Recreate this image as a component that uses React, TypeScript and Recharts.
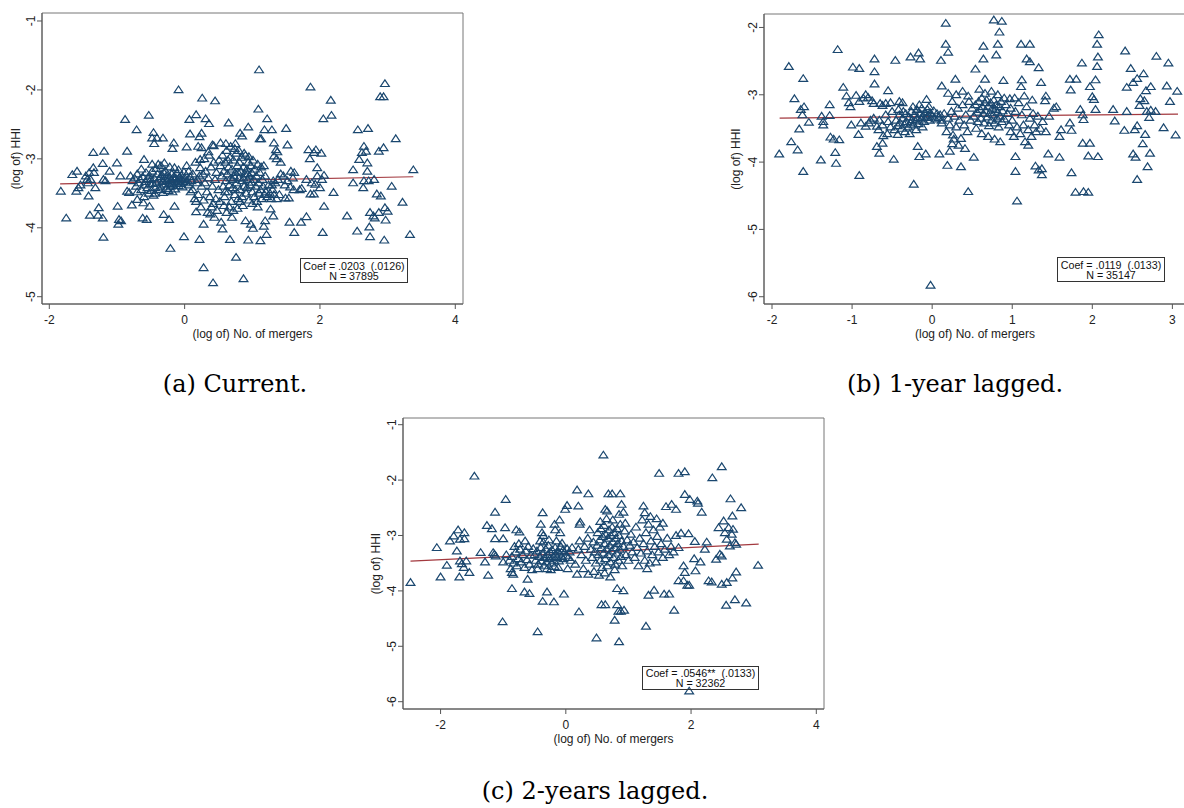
import { ScatterChart, Scatter, XAxis, YAxis, ReferenceArea, ReferenceLine } from "recharts";

type Pt = [number, number];

// (a) current
const sparseA: Pt[] = [
  [1.10,-1.71],[-0.09,-2.00],[0.26,-2.12],[0.45,-2.16],[1.86,-1.96],[2.16,-2.15],[2.17,-2.37],[2.05,-2.42],[2.96,-1.91],[2.89,-2.10],[2.94,-2.10],[1.09,-2.28],[-0.88,-2.43],[-0.53,-2.37],[-0.71,-2.58],[0.17,-2.36],[0.07,-2.43],[0.31,-2.42],[0.36,-2.49],[0.08,-2.64],[0.25,-2.63],[0.65,-2.48],[0.94,-2.54],[1.22,-2.42],[1.18,-2.58],[1.29,-2.58],[1.50,-2.56],[1.52,-2.80],[2.56,-2.58],[2.71,-2.56],[3.12,-2.71],[0.82,-2.63],[0.85,-2.67],[1.11,-2.71],[1.13,-2.71],[1.32,-2.77],[1.37,-2.90],[-0.46,-2.62],[-0.48,-2.70],[-0.41,-2.70],[-0.32,-2.70],[-0.45,-2.78],[-0.16,-2.77],[-0.18,-2.85],[0.03,-2.83],[0.22,-2.68],[0.20,-2.82],[0.25,-2.84],[0.41,-2.80],[0.43,-2.81],[0.53,-2.77],[0.61,-2.78],[0.75,-2.78],[0.35,-2.90],[0.23,-3.01],
  [-1.35,-2.91],[-1.19,-2.89],[-0.85,-2.89],[-1.00,-3.06],[-1.21,-3.07],[-1.35,-3.13],[-0.60,-3.01],[-1.66,-3.23],[-1.59,-3.18],[-1.41,-3.20],[-1.34,-3.20],[-1.11,-3.18],[-0.95,-3.25],[-1.83,-3.47],[-1.75,-3.86],[-1.60,-3.47],[-1.57,-3.42],[-1.54,-3.38],[-1.43,-3.35],[-1.39,-3.30],[-1.46,-3.25],[-1.44,-3.30],[-1.32,-3.42],[-1.20,-3.30],[-1.17,-3.32],[-1.42,-3.54],[-1.40,-3.82],[-1.27,-3.71],[-1.28,-3.82],[-1.21,-3.86],[-1.20,-4.14],[-0.99,-3.69],[-0.97,-3.88],[-0.94,-3.90],[-0.98,-3.95],[-0.85,-3.47],[-0.82,-3.49],[-0.78,-3.67],[-0.70,-3.59],[-0.61,-3.64],[-0.52,-3.69],[-0.62,-3.86],[-0.56,-3.88],[-0.31,-3.81],[-0.23,-3.88],[-0.21,-4.30],[-0.15,-3.69],[-0.01,-4.13],[0.22,-4.17],[0.28,-4.58],[0.42,-4.80],[0.76,-4.43],[0.87,-4.74],[0.28,-3.95],[0.17,-3.77],[0.54,-3.92],[0.56,-4.02],[0.67,-4.17],[0.94,-4.18],[1.12,-4.19],[1.21,-4.10],[0.90,-3.90],[0.98,-3.95],[1.01,-4.01],[1.17,-3.98],[1.19,-3.90],[1.27,-3.73],[1.31,-3.83],[1.55,-3.92],[1.62,-4.07],[1.72,-3.92],[1.80,-3.84],[2.04,-4.07],[2.40,-3.83],[2.55,-4.05],[2.74,-4.13],[2.73,-3.99],[2.95,-4.18],[2.97,-3.89],[3.33,-4.10],[3.22,-3.63],[3.06,-3.40],[3.38,-3.16],[2.06,-3.69],[2.20,-3.49],
  [2.94,-2.84],[2.87,-2.89],[2.58,-3.01],[2.62,-2.91],[2.65,-2.82],[2.68,-2.89],[2.70,-3.06],[2.49,-3.16],[2.49,-3.35],[2.65,-3.32],[2.64,-3.42],[2.70,-3.18],[2.72,-3.32],[2.80,-3.30],[2.84,-3.51],[2.90,-3.54],[2.74,-3.78],[2.79,-3.83],[2.81,-3.86],[2.87,-3.78],[2.96,-3.71],[3.00,-3.76],[1.83,-2.87],[1.91,-2.91],[1.94,-2.87],[2.02,-2.92],[1.96,-3.13],[1.88,-3.35],[1.93,-3.37],[1.91,-3.51],[1.86,-3.51],[1.96,-3.25],[2.03,-3.30],[2.06,-3.24],[2.00,-3.42],[1.73,-3.43],[1.56,-3.41],[1.61,-3.45],[1.49,-3.57],[1.54,-3.57],[1.46,-3.25],[1.52,-3.32],[1.57,-3.18],[1.62,-3.20],[1.35,-2.87],[1.32,-2.96],[1.36,-3.00],[1.31,-3.32],[1.29,-3.38],
  [1.42,-3.05],[1.48,-3.38],[1.60,-3.28],[1.70,-3.45],[1.80,-3.30],[1.85,-3.00],
];
const clusterA: Pt[] = [
  [-0.45,-3.28],[-0.42,-3.35],[-0.40,-3.22],[-0.38,-3.31],[-0.36,-3.40],[-0.35,-3.26],[-0.33,-3.33],[-0.31,-3.20],[-0.30,-3.37],[-0.29,-3.29],[-0.27,-3.43],[-0.26,-3.24],[-0.25,-3.32],[-0.23,-3.36],[-0.22,-3.27],[-0.21,-3.40],[-0.20,-3.30],[-0.19,-3.22],[-0.18,-3.34],[-0.17,-3.38],[-0.16,-3.26],[-0.15,-3.31],[-0.14,-3.44],[-0.13,-3.28],[-0.12,-3.35],[-0.11,-3.21],[-0.10,-3.33],[-0.09,-3.39],[-0.08,-3.27],[-0.07,-3.31],[-0.06,-3.36],[-0.05,-3.24],[-0.04,-3.30],[-0.03,-3.41],[-0.02,-3.33],[0.00,-3.28],[0.02,-3.35],[0.04,-3.31],[0.06,-3.38],[0.08,-3.26],[-0.28,-3.18],[-0.24,-3.46],[-0.34,-3.23],[-0.37,-3.45],[-0.43,-3.42],[-0.47,-3.36],[-0.50,-3.30],[-0.52,-3.24],[-0.18,-3.48],[-0.09,-3.16],[-0.01,-3.19],[0.10,-3.32],[0.12,-3.22],[-0.32,-3.49],[-0.15,-3.13],
  [-0.80,-3.25],[-0.77,-3.32],[-0.74,-3.28],[-0.72,-3.40],[-0.70,-3.22],[-0.68,-3.35],[-0.66,-3.30],[-0.64,-3.45],[-0.62,-3.26],[-0.60,-3.38],[-0.58,-3.33],[-0.57,-3.20],[-0.55,-3.42],[-0.54,-3.29],[-0.53,-3.50],[-0.51,-3.36],[-0.49,-3.46],[-0.48,-3.18],[-0.46,-3.53],[-0.44,-3.50],[-0.64,-3.15],[-0.70,-3.48],[-0.60,-3.55],[-0.42,-3.14],[-0.39,-3.08],[-0.35,-3.10],[-0.30,-3.06],[-0.22,-3.12],[-0.48,-3.08],
  [0.12,-3.45],[0.15,-3.58],[0.17,-3.62],[0.19,-3.30],[0.20,-3.52],[0.22,-3.25],[0.24,-3.70],[0.25,-3.40],[0.27,-3.22],[0.28,-3.60],[0.30,-3.35],[0.31,-3.18],[0.33,-3.48],[0.34,-3.78],[0.35,-3.28],[0.37,-3.55],[0.38,-3.80],[0.39,-3.12],[0.41,-3.40],[0.42,-3.65],[0.43,-3.05],[0.45,-3.30],[0.46,-3.58],[0.47,-3.20],[0.48,-3.75],[0.50,-3.45],[0.51,-3.02],[0.52,-3.62],[0.16,-3.05],[0.23,-3.13],[0.29,-3.00],[0.36,-2.95],[0.40,-3.70],[0.44,-3.85],[0.18,-3.35],[0.09,-3.48],[0.06,-3.18],[0.03,-3.10],
  [0.53,-3.10],[0.55,-3.25],[0.56,-2.95],[0.57,-3.40],[0.58,-3.18],[0.59,-3.55],[0.60,-3.05],[0.61,-3.32],[0.62,-2.88],[0.63,-3.22],[0.64,-3.48],[0.65,-3.12],[0.66,-3.38],[0.67,-2.98],[0.68,-3.28],[0.69,-3.62],[0.70,-3.15],[0.71,-3.42],[0.72,-3.02],[0.73,-3.25],[0.74,-3.52],[0.75,-3.20],[0.76,-2.92],[0.77,-3.35],[0.78,-3.10],[0.79,-3.58],[0.80,-3.28],[0.81,-3.05],[0.82,-3.45],[0.83,-3.18],[0.84,-2.98],[0.85,-3.32],[0.86,-3.68],[0.87,-3.12],[0.88,-3.40],[0.89,-3.22],[0.90,-2.95],[0.91,-3.50],[0.92,-3.15],[0.93,-3.30],[0.94,-3.05],[0.95,-3.60],[0.96,-3.25],[0.97,-3.38],[0.98,-3.10],[0.99,-3.20],[1.00,-3.48],[1.01,-3.02],[1.02,-3.30],[1.03,-3.55],[1.04,-3.15],[1.05,-3.40],[1.06,-3.25],[1.07,-3.62],[1.08,-3.08],[1.09,-3.35],[1.10,-3.50],[1.11,-3.20],[1.12,-3.45],[1.13,-3.12],[1.14,-3.58],[1.15,-3.30],[1.16,-3.40],[1.17,-3.10],[1.18,-3.52],[1.19,-3.25],[1.20,-3.48],[1.22,-3.55],[1.24,-3.38],[1.26,-3.50],[1.28,-3.58],[1.30,-3.45],[1.32,-3.52],[1.34,-3.35],[1.36,-3.58],[1.38,-3.30],[1.40,-3.52],[1.42,-3.22],[0.66,-3.70],[0.72,-3.75],[0.78,-3.72],[0.70,-3.85],[0.62,-3.78],[0.58,-3.68],[0.68,-2.82],[0.74,-2.85],[0.80,-2.88],[0.88,-2.92],[0.95,-2.97],[0.60,-3.48],[0.75,-3.45],[0.85,-3.55],[0.92,-3.42],[1.00,-3.65],[1.08,-3.70],[0.82,-3.62],[0.64,-3.02],[0.71,-3.30],[0.79,-3.20],[0.87,-3.28],[0.93,-3.22],[0.99,-3.34],
];
const fitA: Pt[] = [[-1.84, -3.362], [3.38, -3.26]];

// (b) 1-year lagged
const sparseB: Pt[] = [
  [-1.91,-3.88],[-1.79,-2.58],[-1.72,-3.06],[-1.76,-3.70],[-1.68,-3.82],[-1.66,-3.51],[-1.64,-3.22],[-1.62,-3.30],[-1.61,-2.76],[-1.60,-3.18],[-1.61,-4.14],[-1.54,-3.41],[-1.39,-3.97],[-1.38,-3.32],[-1.36,-3.40],[-1.36,-3.45],[-1.28,-3.15],[-1.28,-3.31],[-1.27,-3.63],[-1.23,-3.66],[-1.16,-3.67],[-1.21,-3.86],[-1.20,-4.02],[-1.18,-2.33],[-1.11,-2.89],[-1.07,-3.02],[-1.04,-3.12],[-1.02,-3.18],[-1.01,-3.45],[-0.99,-2.59],[-0.91,-2.61],[-0.95,-3.01],[-0.91,-3.10],[-0.92,-3.59],[-0.91,-4.20],[-0.89,-3.42],[-0.86,-3.05],[-0.83,-3.00],[-0.80,-3.04],[-0.75,-3.09],[-0.73,-3.13],[-0.83,-3.47],[-0.79,-3.42],[-0.77,-3.38],[-0.73,-3.35],[-0.69,-3.47],[-0.67,-3.52],[-0.72,-2.47],[-0.72,-2.66],[-0.72,-2.84],[-0.69,-3.77],[-0.66,-3.87],[-0.62,-3.72],[-0.65,-3.13],[-0.62,-3.16],[-0.58,-3.13],[-0.55,-2.94],[-0.52,-3.12],[-0.48,-3.96],[-0.46,-2.49],[-0.61,-3.61],[-0.43,-3.59],[-0.41,-3.10],[-0.37,-3.12],
  [-0.27,-2.44],[-0.17,-2.38],[-0.15,-2.47],[-0.23,-4.33],[-0.18,-3.77],[-0.16,-3.92],[-0.08,-3.88],[-0.07,-3.07],[-0.02,-5.83],[0.12,-2.87],[0.11,-2.49],[0.17,-1.94],[0.17,-2.25],[0.20,-2.37],[0.20,-2.98],[0.09,-3.88],[0.19,-4.05],[0.22,-3.84],[0.25,-3.73],[0.27,-3.66],[0.29,-2.77],[0.36,-4.07],[0.45,-4.44],[0.54,-2.62],[0.52,-3.93],[0.64,-2.28],[0.64,-2.47],[0.66,-2.77],[0.77,-1.89],[0.87,-1.91],[0.84,-2.07],[0.82,-2.25],[0.80,-2.41],[0.89,-2.79],[0.97,-3.06],[1.11,-2.25],[1.22,-2.25],[1.12,-2.78],[1.11,-2.88],[1.18,-2.47],[1.22,-2.51],[1.33,-2.60],[1.36,-2.82],[1.42,-3.02],[1.41,-3.09],[1.04,-3.92],[1.04,-4.14],[1.06,-4.58],[1.29,-4.06],[1.33,-4.12],[1.37,-4.19],[1.37,-4.10],[1.45,-3.88],[1.59,-3.93],[1.52,-3.20],[1.55,-3.18],[1.59,-3.62],[1.61,-3.52],
  [1.72,-2.77],[1.73,-2.93],[1.80,-2.77],[1.87,-2.53],[1.72,-3.42],[1.74,-3.53],[1.74,-4.16],[1.79,-4.45],[1.89,-4.44],[1.95,-4.45],[1.85,-3.22],[1.88,-3.30],[1.89,-3.37],[1.88,-3.72],[1.97,-3.72],[1.95,-3.91],[2.07,-3.92],[1.97,-2.88],[2.00,-3.03],[2.02,-3.07],[2.04,-2.78],[2.04,-3.22],[2.06,-2.58],[2.07,-2.44],[2.06,-2.25],[2.08,-2.11],[2.26,-3.22],[2.28,-3.39],[2.40,-3.53],[2.41,-2.35],[2.48,-2.61],[2.43,-2.89],[2.43,-3.25],[2.51,-2.82],[2.56,-2.76],[2.64,-2.69],[2.67,-2.94],[2.51,-3.88],[2.54,-3.93],[2.56,-4.26],[2.56,-3.46],[2.53,-3.52],[2.59,-3.16],[2.60,-3.06],[2.65,-3.09],[2.63,-3.73],[2.66,-3.59],[2.69,-4.07],[2.72,-3.87],[2.68,-3.25],[2.73,-3.23],[2.71,-3.34],[2.79,-3.25],[2.73,-2.88],[2.80,-2.43],[2.93,-2.87],[2.95,-2.53],[2.97,-3.10],[2.89,-3.49],[3.04,-3.60],[3.06,-2.95],
];
const clusterB: Pt[] = [
  [-0.45,-3.38],[-0.43,-3.46],[-0.41,-3.30],[-0.40,-3.42],[-0.38,-3.50],[-0.37,-3.35],[-0.35,-3.44],[-0.33,-3.28],[-0.32,-3.40],[-0.30,-3.48],[-0.29,-3.33],[-0.27,-3.42],[-0.26,-3.25],[-0.25,-3.37],[-0.23,-3.45],[-0.22,-3.30],[-0.21,-3.39],[-0.19,-3.22],[-0.18,-3.34],[-0.17,-3.43],[-0.15,-3.28],[-0.14,-3.36],[-0.13,-3.20],[-0.11,-3.32],[-0.10,-3.40],[-0.09,-3.26],[-0.07,-3.34],[-0.06,-3.22],[-0.05,-3.30],[-0.03,-3.38],[-0.02,-3.27],[0.00,-3.32],[0.02,-3.24],[0.04,-3.36],[0.06,-3.28],[0.08,-3.34],[0.10,-3.30],[0.12,-3.38],[-0.34,-3.55],[-0.28,-3.58],[-0.20,-3.52],[-0.12,-3.48],[-0.24,-3.18],[-0.16,-3.15],[-0.04,-3.18],[-0.36,-3.25],[-0.42,-3.22],[-0.47,-3.52],
  [-0.55,-3.40],[-0.52,-3.48],[-0.58,-3.30],[-0.62,-3.45],[-0.50,-3.25],[-0.66,-3.38],[-0.56,-3.58],
  [0.50,-3.20],[0.52,-3.32],[0.54,-3.15],[0.56,-3.26],[0.57,-3.40],[0.58,-3.10],[0.60,-3.22],[0.61,-3.35],[0.62,-3.05],[0.63,-3.18],[0.64,-3.28],[0.65,-3.42],[0.66,-3.12],[0.67,-3.24],[0.68,-3.08],[0.69,-3.33],[0.70,-3.17],[0.71,-3.46],[0.72,-3.27],[0.73,-3.12],[0.74,-3.38],[0.75,-3.20],[0.76,-3.30],[0.77,-3.08],[0.78,-3.42],[0.79,-3.22],[0.80,-3.15],[0.81,-3.35],[0.82,-3.26],[0.83,-3.48],[0.84,-3.18],[0.85,-3.32],[0.86,-3.10],[0.87,-3.40],[0.88,-3.24],[0.90,-3.36],[0.92,-3.15],[0.94,-3.28],[0.96,-3.45],[0.98,-3.20],[0.55,-3.50],[0.62,-3.58],[0.70,-3.62],[0.78,-3.66],[0.85,-3.70],[0.66,-2.98],[0.74,-2.95],[0.82,-3.00],[0.59,-2.92],[0.90,-3.05],
  [0.12,-3.42],[0.15,-3.28],[0.18,-3.55],[0.20,-3.35],[0.22,-3.45],[0.24,-3.25],[0.26,-3.60],[0.28,-3.32],[0.30,-3.48],[0.32,-3.20],[0.34,-3.38],[0.36,-3.65],[0.38,-3.15],[0.40,-3.45],[0.42,-3.30],[0.44,-3.55],[0.46,-3.10],[0.48,-3.38],[0.33,-3.75],[0.41,-3.80],[0.30,-3.00],[0.38,-2.95],[0.45,-3.02],[0.25,-3.10],
  [0.98,-3.55],[1.00,-3.38],[1.02,-3.62],[1.04,-3.25],[1.06,-3.48],[1.08,-3.12],[1.10,-3.58],[1.12,-3.30],[1.14,-3.45],[1.16,-3.70],[1.18,-3.18],[1.20,-3.52],[1.22,-3.35],[1.24,-3.62],[1.26,-3.28],[1.28,-3.45],[1.30,-3.55],[1.32,-3.32],[1.35,-3.50],[1.38,-3.40],[1.42,-3.55],[1.46,-3.32],[1.03,-3.05],[1.15,-3.02],[1.25,-3.08],[1.20,-3.75],
];
const fitB: Pt[] = [[-1.905, -3.346], [3.07, -3.287]];

// (c) 2-years lagged
const sparseC: Pt[] = [
  [-2.48,-3.85],[-2.06,-3.22],[-2.00,-3.75],[-1.90,-3.54],[-1.85,-3.10],[-1.79,-3.01],[-1.72,-2.90],[-1.69,-3.07],[-1.62,-2.95],[-1.62,-3.06],[-1.74,-3.28],[-1.70,-3.75],[-1.69,-3.46],[-1.66,-3.51],[-1.59,-3.46],[-1.63,-3.58],[-1.54,-3.67],[-1.46,-1.93],[-1.36,-3.31],[-1.29,-3.48],[-1.26,-2.82],[-1.18,-2.88],[-1.24,-3.72],[-1.16,-3.31],[-1.14,-3.34],[-1.12,-3.37],[-1.13,-2.58],[-1.13,-3.06],[-1.00,-3.06],[-0.96,-2.35],[-0.97,-2.86],[-1.01,-4.56],[-0.86,-3.96],[-0.86,-3.67],[-0.84,-3.70],[-0.79,-2.90],[-0.74,-2.94],[-0.66,-4.02],[-0.58,-4.05],[-0.61,-3.79],[-0.45,-4.74],[-0.40,-2.80],[-0.38,-2.95],[-0.36,-3.00],[-0.37,-2.59],[-0.37,-4.19],[-0.30,-4.02],[-0.19,-4.20],[-0.18,-2.80],[-0.17,-2.90],[-0.10,-2.72],[-0.09,-2.95],[-0.03,-4.06],[-0.01,-2.53],[0.02,-2.46],
  [0.18,-2.18],[0.20,-2.47],[0.23,-2.76],[0.22,-2.80],[0.21,-4.38],[0.36,-2.25],[0.49,-4.85],[0.60,-1.55],[0.68,-2.25],[0.74,-2.25],[0.87,-2.25],[0.63,-2.53],[0.66,-2.56],[0.57,-4.25],[0.63,-4.25],[0.78,-4.53],[0.85,-4.92],[0.82,-4.25],[0.84,-4.37],[0.88,-4.37],[0.93,-4.35],[0.82,-3.96],[0.92,-4.00],[0.89,-2.44],[0.92,-2.58],[1.24,-2.47],[1.26,-2.59],[1.35,-2.66],[1.28,-4.64],[1.32,-4.08],[1.41,-3.99],[1.49,-1.88],[1.57,-4.06],[1.65,-4.06],[1.60,-2.48],[1.69,-2.44],[1.76,-2.53],[1.73,-4.35],[1.80,-1.88],[1.90,-1.85],[1.90,-2.26],[1.98,-2.35],[2.10,-2.38],[2.11,-2.42],[2.17,-2.58],
  [1.80,-3.82],[1.88,-3.82],[1.90,-3.67],[1.94,-3.90],[1.97,-3.90],[1.88,-3.55],[1.97,-5.81],[2.05,-3.42],[2.15,-3.48],[2.07,-3.64],[1.96,-2.97],[2.06,-3.11],[2.22,-3.25],[2.25,-3.12],[2.28,-3.82],[2.33,-3.84],[2.34,-1.96],[2.40,-3.43],[2.44,-2.86],[2.46,-3.34],[2.49,-3.37],[2.52,-2.74],[2.49,-3.88],[2.49,-1.76],[2.56,-4.26],[2.57,-3.85],[2.63,-2.34],[2.66,-2.65],[2.54,-2.95],[2.57,-3.07],[2.60,-2.86],[2.62,-3.19],[2.65,-2.98],[2.67,-2.89],[2.70,-3.13],[2.72,-3.16],[2.66,-3.77],[2.72,-3.66],[2.70,-4.16],[2.80,-2.50],[2.88,-4.22],[3.07,-3.54],
];
const clusterC: Pt[] = [
  [-0.50,-3.35],[-0.48,-3.45],[-0.46,-3.28],[-0.44,-3.52],[-0.42,-3.38],[-0.40,-3.22],[-0.39,-3.46],[-0.37,-3.32],[-0.35,-3.55],[-0.34,-3.40],[-0.32,-3.25],[-0.31,-3.48],[-0.29,-3.35],[-0.28,-3.18],[-0.26,-3.42],[-0.25,-3.30],[-0.23,-3.50],[-0.22,-3.26],[-0.20,-3.38],[-0.19,-3.45],[-0.17,-3.22],[-0.16,-3.34],[-0.14,-3.40],[-0.13,-3.28],[-0.11,-3.46],[-0.10,-3.32],[-0.08,-3.20],[-0.07,-3.38],[-0.05,-3.27],[-0.04,-3.42],[-0.02,-3.30],[0.00,-3.36],[0.02,-3.24],[0.04,-3.40],[0.06,-3.30],[0.08,-3.45],[0.10,-3.22],[-0.30,-3.60],[-0.24,-3.62],[-0.18,-3.56],[-0.12,-3.58],[-0.36,-3.12],[-0.27,-3.08],[-0.15,-3.10],[-0.06,-3.14],[0.03,-3.60],[-0.45,-3.60],[-0.41,-3.10],
  [0.40,-3.25],[0.42,-3.40],[0.44,-3.12],[0.46,-3.30],[0.48,-3.50],[0.50,-3.18],[0.51,-2.95],[0.52,-3.35],[0.54,-3.08],[0.55,-3.45],[0.56,-2.88],[0.57,-3.22],[0.58,-3.58],[0.59,-3.02],[0.60,-3.32],[0.61,-2.82],[0.62,-3.15],[0.63,-3.42],[0.64,-2.98],[0.65,-3.25],[0.66,-3.55],[0.67,-3.05],[0.68,-3.35],[0.69,-2.90],[0.70,-3.18],[0.71,-3.48],[0.72,-3.00],[0.73,-3.28],[0.74,-2.85],[0.75,-3.12],[0.76,-3.40],[0.77,-2.95],[0.78,-3.22],[0.79,-3.52],[0.80,-3.05],[0.81,-3.32],[0.82,-2.88],[0.83,-3.15],[0.84,-3.45],[0.85,-3.00],[0.86,-3.25],[0.87,-2.80],[0.88,-3.38],[0.89,-3.10],[0.90,-3.55],[0.92,-3.20],[0.94,-2.92],[0.96,-3.35],[0.98,-3.08],[1.00,-3.45],[1.02,-3.18],[1.04,-2.98],[1.06,-3.30],[1.08,-3.12],[0.45,-3.65],[0.53,-3.72],[0.62,-3.68],[0.71,-3.75],[0.78,-3.62],[0.55,-2.75],[0.65,-2.70],[0.75,-2.72],[0.85,-2.62],[0.95,-2.78],[0.30,-3.20],[0.32,-3.45],[0.35,-3.05],[0.28,-3.60],[0.25,-3.35],[0.20,-3.25],[0.15,-3.52],[0.22,-3.10],[0.36,-3.70],[0.18,-3.70],[0.38,-2.90],
  [1.10,-3.40],[1.12,-2.85],[1.14,-3.22],[1.16,-3.55],[1.18,-3.05],[1.20,-3.32],[1.22,-2.72],[1.24,-3.15],[1.26,-3.45],[1.28,-2.95],[1.30,-3.28],[1.32,-2.80],[1.34,-3.50],[1.36,-3.10],[1.38,-3.35],[1.40,-2.90],[1.42,-3.20],[1.44,-3.48],[1.46,-3.02],[1.48,-3.30],[1.50,-2.85],[1.52,-3.15],[1.55,-3.40],[1.58,-3.25],[1.62,-3.05],[1.65,-3.35],[1.68,-3.20],[1.72,-3.30],[1.76,-3.00],[1.80,-3.22],[1.84,-2.96],[1.30,-3.60],[1.45,-2.70],[1.55,-2.78],
  [-0.90,-3.45],[-0.88,-3.60],[-0.86,-3.38],[-0.84,-3.50],[-0.80,-3.30],[-0.78,-3.55],[-0.76,-3.42],[-0.73,-3.25],[-0.71,-3.48],[-0.69,-3.35],[-0.66,-3.58],[-0.64,-3.28],[-0.62,-3.44],[-0.60,-3.20],[-0.58,-3.52],[-0.56,-3.36],[-0.54,-3.62],[-0.52,-3.24],[-0.75,-3.15],[-0.82,-3.20],[-0.65,-3.10],[-0.95,-3.35],[-1.00,-3.48],
];
const fitC: Pt[] = [[-2.48, -3.464], [3.08, -3.157]];

const xTicksA = [-2, 0, 2, 4];
const yTicksA = [-5, -4, -3, -2, -1];
const xTicksB = [-2, -1, 0, 1, 2, 3];
const yTicksB = [-6, -5, -4, -3, -2];
const xTicksC = [-2, 0, 2, 4];
const yTicksC = [-6, -5, -4, -3, -2, -1];

const notesA = ["Coef = .0203  (.0126)", "N = 37895"];
const notesB = ["Coef = .0119  (.0133)", "N = 35147"];
const notesC = ["Coef = .0546**  (.0133)", "N = 32362"];

const X_TITLE = "(log of) No. of mergers";
const Y_TITLE = "(log of) HHI";

const NAVY = "#1a476f";
const FIT = "#a3393f";
const AXIS = "#555";
const SANS = "'Liberation Sans', Arial, sans-serif";
const SERIF = "'DejaVu Serif', serif";

const Tri = (p: any) => {
  const { cx, cy } = p;
  if (cx == null || cy == null) return null;
  return (
    <path
      d={`M${cx - 4.4},${cy + 2.8}L${cx + 4.4},${cy + 2.8}L${cx},${cy - 3.9}Z`}
      fill="none"
      stroke={NAVY}
      strokeWidth={1.2}
    />
  );
};

const YTick = (p: any) => (
  <text
    x={p.x}
    y={p.y}
    transform={`rotate(-90 ${p.x} ${p.y})`}
    textAnchor="middle"
    fontSize={12}
    fontFamily={SANS}
    fill="#222"
  >
    {p.payload.value}
  </text>
);

type PanelProps = {
  left: number;
  top: number;
  width: number;
  height: number;
  plot: { x: number; y: number; w: number; h: number };
  xDomain: [number, number];
  yDomain: [number, number];
  xTicks: number[];
  yTicks: number[];
  points: Pt[];
  fit: Pt[];
  notes: string[];
  box: { x: number; y: number; w: number; h: number; pad: number };
};

function Panel(props: PanelProps) {
  const { left, top, width, height, plot, xDomain, yDomain, box } = props;
  const data = props.points.map(([x, y]) => ({ x, y }));
  const margin = {
    top: plot.y - top,
    right: left + width - (plot.x + plot.w),
    bottom: 0,
    left: 0,
  };
  return (
    <>
      <div style={{ position: "absolute", left, top }}>
        <ScatterChart width={width} height={height} margin={margin}>
          <XAxis
            type="number"
            dataKey="x"
            domain={xDomain}
            ticks={props.xTicks}
            allowDataOverflow
            height={top + height - (plot.y + plot.h)}
            stroke={AXIS}
            tickSize={5}
            tickMargin={6}
            tick={{ fill: "#222", fontSize: 12, fontFamily: SANS }}
            label={{
              value: X_TITLE,
              position: "insideBottom",
              offset: 7,
              fill: "#222",
              fontSize: 12,
              fontFamily: SANS,
            }}
          />
          <YAxis
            type="number"
            dataKey="y"
            domain={yDomain}
            ticks={props.yTicks}
            allowDataOverflow
            width={plot.x - left}
            stroke={AXIS}
            tickSize={5}
            tick={<YTick />}
            label={{
              value: Y_TITLE,
              angle: -90,
              position: "insideLeft",
              offset: 16,
              fill: "#222",
              fontSize: 12,
              fontFamily: SANS,
              style: { textAnchor: "middle" },
            }}
          />
          <ReferenceArea
            x1={xDomain[0]}
            x2={xDomain[1]}
            y1={yDomain[0]}
            y2={yDomain[1]}
            fill="none"
            stroke="#777"
            strokeWidth={1}
          />
          <Scatter data={data} shape={<Tri />} isAnimationActive={false} />
          <ReferenceLine
            segment={props.fit.map(([x, y]) => ({ x, y }))}
            stroke={FIT}
            strokeWidth={1.2}
          />
        </ScatterChart>
      </div>
      <div
        style={{
          position: "absolute",
          left: box.x,
          top: box.y,
          width: box.w,
          height: box.h,
          boxSizing: "border-box",
          border: "1px solid #333",
          paddingTop: box.pad,
          fontFamily: SANS,
          fontSize: 10.7,
          lineHeight: "10px",
          textAlign: "center",
          whiteSpace: "pre",
          color: "#111",
        }}
      >
        {props.notes.map((t) => (
          <div key={t}>{t}</div>
        ))}
      </div>
    </>
  );
}

function Caption({ text, center, baseline }: { text: string; center: number; baseline: number }) {
  return (
    <div
      style={{
        position: "absolute",
        left: center - 200,
        width: 400,
        top: baseline - 20.3,
        textAlign: "center",
        fontFamily: SERIF,
        fontSize: 24,
        lineHeight: "24px",
        color: "#000",
      }}
    >
      {text}
    </div>
  );
}

export default function App() {
  return (
    <div
      style={{
        position: "absolute",
        left: 0,
        top: 0,
        width: 1184,
        height: 808,
        overflow: "hidden",
        background: "#fff",
      }}
    >
      <Panel
        left={0}
        top={0}
        width={470}
        height={345}
        plot={{ x: 42, y: 13, w: 421, h: 291 }}
        xDomain={[-2.108, 4.114]}
        yDomain={[-5.106, -0.884]}
        xTicks={xTicksA}
        yTicks={yTicksA}
        points={[...sparseA, ...clusterA]}
        fit={fitA}
        notes={notesA}
        box={{ x: 300, y: 258, w: 108, h: 25, pad: 2 }}
      />
      <Panel
        left={720}
        top={0}
        width={470}
        height={345}
        plot={{ x: 764, y: 14, w: 422, h: 290 }}
        xDomain={[-2.1, 3.17]}
        yDomain={[-6.108, -1.8]}
        xTicks={xTicksB}
        yTicks={yTicksB}
        points={[...sparseB, ...clusterB]}
        fit={fitB}
        notes={notesB}
        box={{ x: 1057, y: 257, w: 108, h: 25, pad: 2 }}
      />
      <Panel
        left={360}
        top={405}
        width={470}
        height={345}
        plot={{ x: 403, y: 418, w: 421, h: 291 }}
        xDomain={[-2.6, 4.123]}
        yDomain={[-6.132, -0.879]}
        xTicks={xTicksC}
        yTicks={yTicksC}
        points={[...sparseC, ...clusterC]}
        fit={fitC}
        notes={notesC}
        box={{ x: 642, y: 666, w: 117, h: 24, pad: 1 }}
      />
      <Caption text="(a) Current." center={235} baseline={392} />
      <Caption text="(b) 1-year lagged." center={955} baseline={392} />
      <Caption text="(c) 2-years lagged." center={595} baseline={799} />
    </div>
  );
}
